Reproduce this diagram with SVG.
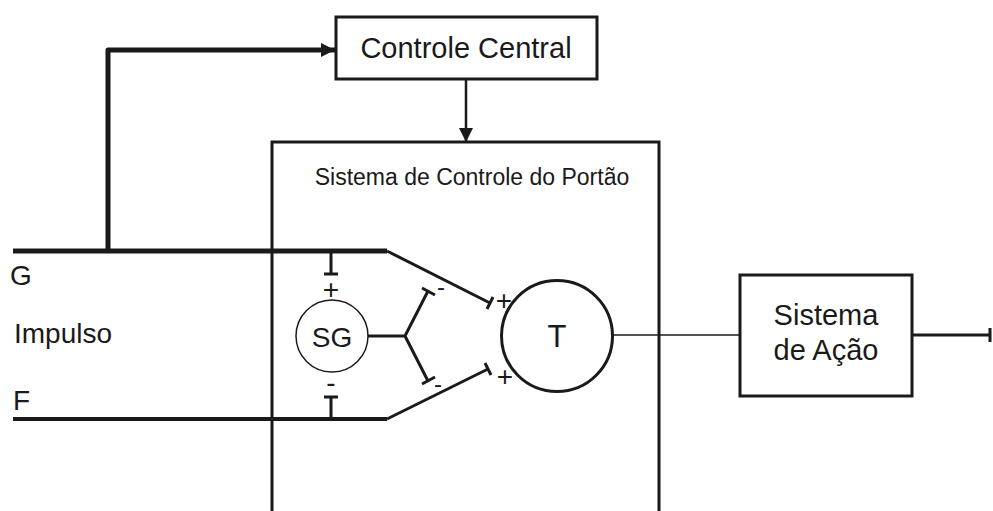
<svg xmlns="http://www.w3.org/2000/svg" width="993" height="511" viewBox="0 0 993 511">
<style>
text{font-family:"Liberation Sans",Arial,sans-serif;fill:#1a1a1a}
.box{fill:#fff;stroke:#1a1a1a;stroke-width:3}
.ln{fill:none;stroke:#1a1a1a;stroke-linecap:butt}
</style>
<defs>
<marker id="ah" viewBox="0 0 10 10" refX="10" refY="5" markerWidth="14" markerHeight="14" markerUnits="userSpaceOnUse" orient="auto"><path d="M0,0 L10,5 L0,10 z" fill="#1a1a1a"/></marker>
<marker id="ah2" viewBox="0 0 10 10" refX="10" refY="5" markerWidth="14" markerHeight="14" markerUnits="userSpaceOnUse" orient="auto"><path d="M0,0 L10,5 L0,10 z" fill="#1a1a1a"/></marker>
</defs>
<g id="gate-system">
<path class="ln" d="M272,515 V142 H659 V515" stroke-width="3"/>
<text x="472" y="185" font-size="23" text-anchor="middle">Sistema de Controle do Portão</text>
</g>
<g id="controle-central">
<rect class="box" x="336" y="17" width="261" height="62"/>
<text x="466" y="58" font-size="29" text-anchor="middle">Controle Central</text>
</g>
<g id="sg">
<circle cx="332" cy="336" r="36" fill="#fff" stroke="#1a1a1a" stroke-width="1.5"/>
<text x="332" y="347" font-size="28" text-anchor="middle">SG</text>
</g>
<g id="t">
<circle cx="557" cy="336" r="55.5" fill="#fff" stroke="#1a1a1a" stroke-width="3"/>
<text x="557" y="347" font-size="31" text-anchor="middle">T</text>
</g>
<g id="sistema-acao">
<rect class="box" x="740" y="275" width="172" height="121"/>
<text x="826" y="325" font-size="29" text-anchor="middle">Sistema</text>
<text x="826" y="360" font-size="29" text-anchor="middle">de Ação</text>
</g>
<g id="labels">
<text x="10" y="285" font-size="28">G</text>
<text x="14" y="343" font-size="28">Impulso</text>
<text x="13" y="410" font-size="28">F</text>
<text x="331" y="299" font-size="28" text-anchor="middle">+</text>
<text x="331" y="392" font-size="28" text-anchor="middle">-</text>
<text x="441" y="295" font-size="24" text-anchor="middle">-</text>
<text x="438" y="392" font-size="24" text-anchor="middle">-</text>
<text x="504" y="310" font-size="28" text-anchor="middle">+</text>
<text x="505" y="386" font-size="28" text-anchor="middle">+</text>
</g>
<g id="connectors">
<path class="ln" d="M13,251 H387" stroke-width="5"/>
<path class="ln" d="M13,419 H387" stroke-width="4"/>
<path class="ln" d="M108,253 V50 H335" stroke-width="5" stroke-linejoin="round" marker-end="url(#ah)"/>
<path class="ln" d="M466,79 V142" stroke-width="2.5" marker-end="url(#ah2)"/>
<path class="ln" d="M331,251 V274 M324,274 H338" stroke-width="3"/>
<path class="ln" d="M331,419 V397 M324,397 H338" stroke-width="3"/>
<path class="ln" d="M368,336 H405 L428,291 M405,336 L428,381" stroke-width="3" stroke-linejoin="miter"/>
<path class="ln" d="M422,288 L435,295 M422,384 L435,377" stroke-width="3"/>
<path class="ln" d="M387,251 L490,303 M487,309 L493,297" stroke-width="3"/>
<path class="ln" d="M387,419 L488,369 M485,363 L491,375" stroke-width="3"/>
<path class="ln" d="M612,335 H740" stroke-width="1.5"/>
<path class="ln" d="M912,335 H990 M990,328 V342" stroke-width="3"/>
</g>
</svg>
